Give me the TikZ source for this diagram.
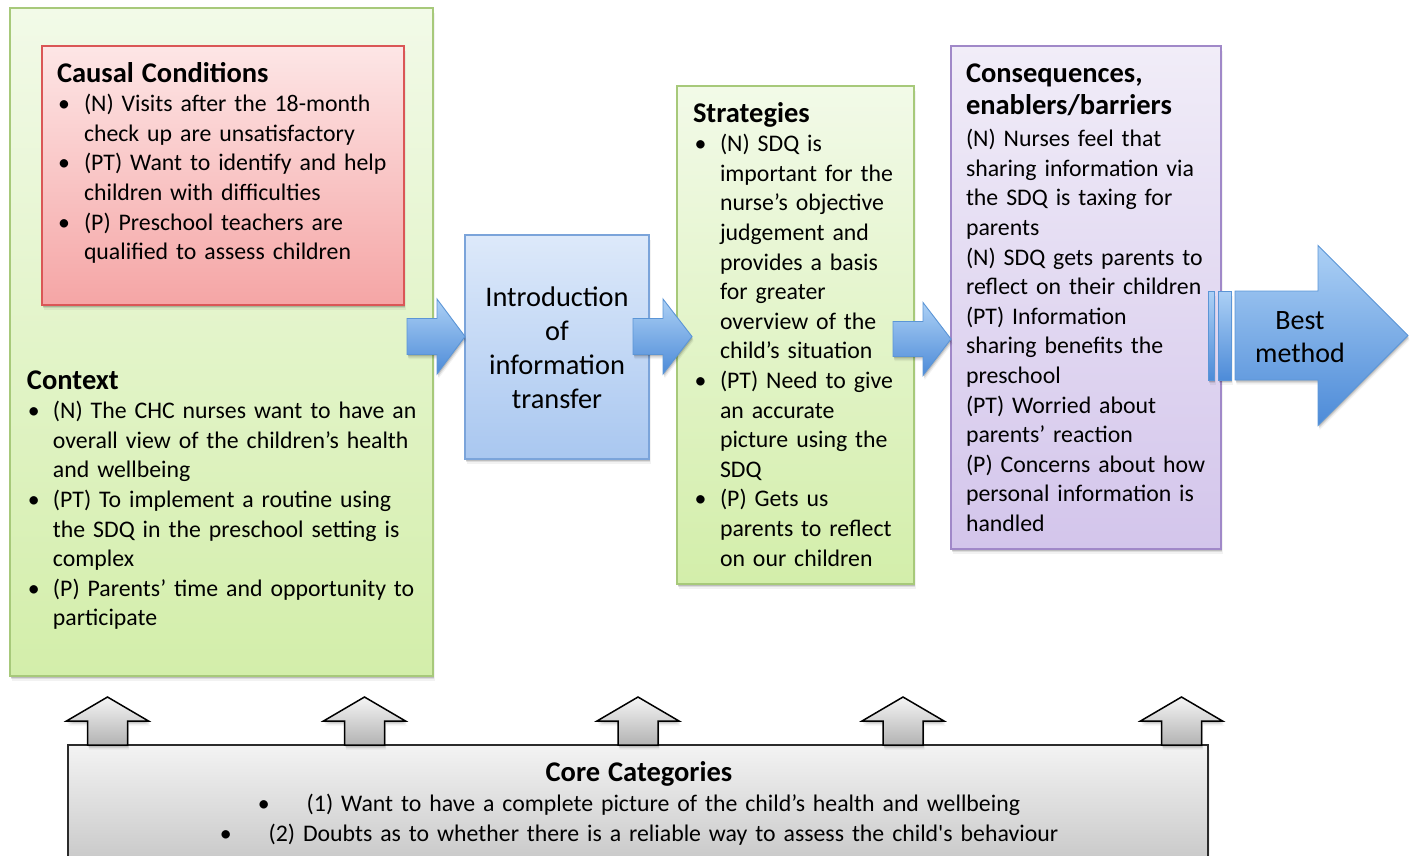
\documentclass[tikz,border=0pt]{standalone}
\usepackage{fontspec}
\setmainfont{Carlito}
\usetikzlibrary{calc,shadows}

\definecolor{ctxTop}{HTML}{F2FAE8}
\definecolor{ctxBot}{HTML}{D3EEAA}
\definecolor{ctxLine}{HTML}{A7C97A}
\definecolor{redTop}{HTML}{FDE6E6}
\definecolor{redBot}{HTML}{F5A5A5}
\definecolor{redLine}{HTML}{DA5656}
\definecolor{bluTop}{HTML}{DDE9FA}
\definecolor{bluBot}{HTML}{A9C7F0}
\definecolor{bluLine}{HTML}{7BA4DA}
\definecolor{purTop}{HTML}{F1EDF8}
\definecolor{purBot}{HTML}{D3C5EB}
\definecolor{purLine}{HTML}{A088C8}
\definecolor{arrTop}{HTML}{ACD0F5}
\definecolor{arrBot}{HTML}{4D8BD8}
\definecolor{arrLine}{HTML}{5B95D6}
\definecolor{coreTop}{HTML}{F3F3F3}
\definecolor{coreBot}{HTML}{C4C4C4}
\definecolor{coreLine}{HTML}{2B2B2B}

\newcommand\bodyfont{\fontsize{23.8}{29.6}\selectfont}
\newcommand\headfont{\fontsize{28.5}{32}\selectfont\bfseries}

% bullet list: #1 = bullet offset, #2 = text indent
\newenvironment{bulletlist}[2]{%
  \begin{list}{\textbullet}{%
    \setlength\leftmargin{#2}\setlength\labelsep{0pt}\setlength\labelwidth{#2}%
    \setlength\itemsep{0pt}\setlength\parsep{0pt}\setlength\topsep{0pt}%
    \setlength\partopsep{0pt}\setlength\itemindent{0pt}\setlength\rightmargin{0pt}%
    \renewcommand\makelabel[1]{\hspace*{#1}##1\hfil}}}%
  {\end{list}}

% block arrow: style, start, tip, head length, head half width, shaft half width
\newcommand\fatarrow[6]{%
  \draw[#1] ($(#2)+(0,-#6)$) -- ($(#3)+(-#4,-#6)$) -- ($(#3)+(-#4,-#5)$) -- (#3)
    -- ($(#3)+(-#4,#5)$) -- ($(#3)+(-#4,#6)$) -- ($(#2)+(0,#6)$) -- cycle;}

\begin{document}
\begin{tikzpicture}[x=1pt,y=-1pt,
  softshadow/.style={
    general shadow={shadow xshift=0.8pt, shadow yshift=-1.5pt, fill=black, opacity=0.14},
    general shadow={shadow xshift=1.2pt, shadow yshift=-3pt, fill=black, opacity=0.09},
    general shadow={shadow xshift=1.6pt, shadow yshift=-4.5pt, fill=black, opacity=0.05}},
  panel/.style={draw, line width=1.3pt, inner sep=0pt, outer sep=0pt,
    anchor=north west, softshadow},
  txt/.style={anchor=base west, inner sep=0pt, outer sep=0pt, text width=#1,
    align=left, font=\bodyfont},
  bluearrow/.style={draw=arrLine, line width=0.9pt, top color=arrTop,
    bottom color=arrBot, softshadow},
  uparrow/.style={draw=black, line width=1.5pt, line join=miter,
    top color=white!96!black, bottom color=black!30, softshadow},
]
\useasboundingbox (0,0) rectangle (1411,855);

% boxes
\node[panel, draw=ctxLine, top color=ctxTop, bottom color=ctxBot,
  minimum width=423pt, minimum height=668pt] (context) at (10,8) {};
\node[panel, draw=redLine, top color=redTop, bottom color=redBot,
  minimum width=362pt, minimum height=259pt] (causal) at (42,46) {};
\node[panel, draw=bluLine, top color=bluTop, bottom color=bluBot,
  minimum width=184pt, minimum height=224pt] (intro) at (465,235) {};
\node[panel, draw=ctxLine, top color=ctxTop, bottom color=ctxBot,
  minimum width=237pt, minimum height=498pt] (strat) at (677,86) {};
\node[panel, draw=purLine, top color=purTop, bottom color=purBot,
  minimum width=270pt, minimum height=503pt] (cons) at (951,46) {};
\node[panel, draw=coreLine, line width=1.6pt, top color=coreTop, bottom color=coreBot,
  minimum width=1140pt, minimum height=130pt] (core) at (68,745) {};

% texts
\node[txt=420pt] (causaltext) at (57,82) {{\headfont Causal Conditions\par}
\begin{bulletlist}{1pt}{27pt}
\item (N) Visits after the 18-month\newline check up are unsatisfactory
\item (PT) Want to identify and help\newline children with difficulties
\item (P) Preschool teachers are\newline qualified to assess children
\end{bulletlist}};

\node[txt=420pt] (contexttext) at (27,389) {{\headfont Context\par}
\begin{bulletlist}{1pt}{26pt}
\item (N) The CHC nurses want to have an\newline overall view of the children’s health\newline and wellbeing
\item (PT) To implement a routine using\newline the SDQ in the preschool setting is\newline complex
\item (P) Parents’ time and opportunity to\newline participate
\end{bulletlist}};

\node[anchor=base, inner sep=0pt, text width=200pt, align=center,
  font=\fontsize{28.4}{34}\selectfont] (introtext) at (557,306)
  {Introduction\\of\\information\\transfer};

\node[txt=420pt] (strattext) at (693,122) {{\headfont Strategies\par}
\begin{bulletlist}{1.5pt}{27pt}
\item (N) SDQ is\newline important for the\newline nurse’s objective\newline judgement and\newline provides a basis\newline for greater\newline overview of the\newline child’s situation
\item (PT) Need to give\newline an accurate\newline picture using the\newline SDQ
\item (P) Gets us\newline parents to reflect\newline on our children
\end{bulletlist}};

\node[txt=420pt] (constext) at (966,82) {{\headfont Consequences,\\enablers/barriers\par}\vspace{3pt}
(N) Nurses feel that\\sharing information via\\the SDQ is taxing for\\parents\\
(N) SDQ gets parents to\\reflect on their children\\
(PT) Information\\sharing benefits the\\preschool\\
(PT) Worried about\\parents’ reaction\\
(P) Concerns about how\\personal information is\\handled};

% flow arrows between the stages
\coordinate (a1s) at ($(context.east |- 0,336.5)+(-26,0)$);
\coordinate (a1t) at (intro.west |- 0,336.5);
\coordinate (a2s) at ($(intro.east |- 0,336.5)+(-16,0)$);
\coordinate (a2t) at ($(strat.west |- 0,336.5)+(15,0)$);
\coordinate (a3s) at ($(strat.east |- 0,339)+(-21,0)$);
\coordinate (a3t) at (cons.west |- 0,339);
\fatarrow{bluearrow}{a1s}{a1t}{28}{37.5}{18}
\fatarrow{bluearrow}{a2s}{a2t}{29}{37.5}{18}
\fatarrow{bluearrow}{a3s}{a3t}{28}{36.5}{17.5}

% outcome arrow
\coordinate (bms) at ($(cons.east |- 0,335.5)+(14,0)$);
\coordinate (bmt) at (1408,335.5);
\path[bluearrow] (1208,291) rectangle (1214,380);
\path[bluearrow] (1218,291) rectangle (1231,380);
\fatarrow{bluearrow}{bms}{bmt}{90}{90}{44.5}
\node[anchor=base, inner sep=0pt, text width=150pt, align=center,
  font=\fontsize{28}{33}\selectfont] (besttext) at (1300,329) {Best\\method};

% core category arrows
\foreach \cx in {107.5,364.5,638,903,1181.5} {
  \draw[uparrow] ($(core.north -| \cx,0)+(-20,0)$) -- ++(0,-24) -- ++(-21,0)
    -- ++(41,-24) -- ++(41,24) -- ++(-21,0) -- ++(0,24) -- cycle;
}

\node[anchor=base, inner sep=0pt, text width=1100pt, align=center,
  font=\fontsize{23.8}{30}\selectfont] (coretext) at (639,781)
  {{\bfseries\fontsize{28.5}{30}\selectfont Core Categories\par}
  \textbullet\hspace{37pt}(1) Want to have a complete picture of the child’s health and wellbeing\\
  \textbullet\hspace{37pt}(2) Doubts as to whether there is a reliable way to assess the child\textquotesingle s behaviour};
\end{tikzpicture}
\end{document}
